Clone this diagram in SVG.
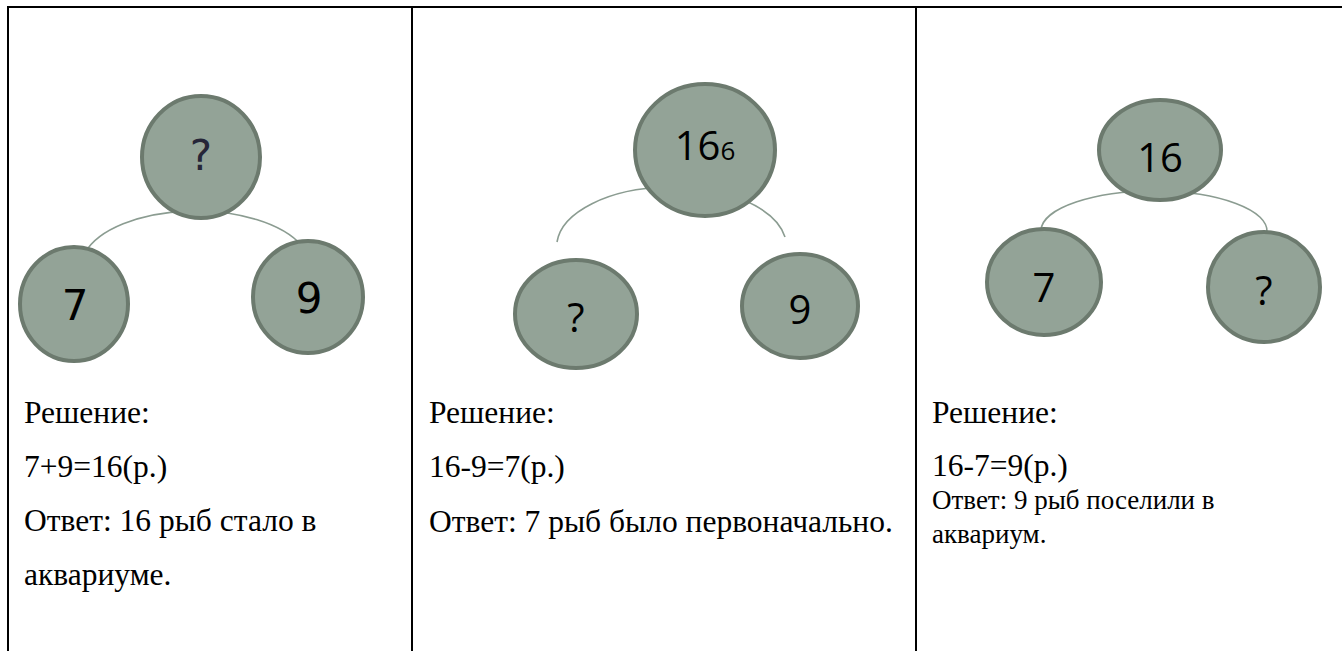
<svg xmlns="http://www.w3.org/2000/svg" width="1342" height="651" viewBox="0 0 1342 651">
<style>
.node{fill:#93a397;stroke:#6c7a6e;stroke-width:4}
.arc{fill:none;stroke:#8b9c91;stroke-width:1.6}
.grid{stroke:#000;stroke-width:2;fill:none}
.n1{font-family:"DejaVu Sans",sans-serif;font-size:42px;text-anchor:middle;fill:#000}
.n2{font-family:"Open Sans","Noto Sans",sans-serif;font-size:40px;text-anchor:middle;fill:#000}
.t{font-family:"Liberation Serif","Times New Roman",serif;font-size:31.5px;fill:#000}
.s{font-size:27px}
</style>
<rect width="1342" height="651" fill="#fff"/>
<g id="table" class="grid">
<line x1="7" y1="7" x2="1342" y2="7"/>
<line x1="8" y1="6" x2="8" y2="651"/>
<line x1="412" y1="6" x2="412" y2="651"/>
<line x1="916" y1="6" x2="916" y2="651"/>
</g>
<g id="connectors">
<path class="arc" d="M85,253 A115,57 0 0 1 302,246"/>
<path class="arc" d="M557,242 A115,60 0 0 1 785,237"/>
<path class="arc" d="M1041,230 A113,40 0 0 1 1267,232"/>
</g>
<g id="p1-top"><ellipse class="node" cx="201" cy="157" rx="59" ry="61"/><text class="n1" x="201" y="170" style="fill:#262638">?</text></g>
<g id="p1-left"><ellipse class="node" cx="74" cy="304" rx="54" ry="57"/><text class="n1" x="75" y="320">7</text></g>
<g id="p1-right"><ellipse class="node" cx="308" cy="297" rx="55" ry="56"/><text class="n1" x="309" y="313">9</text></g>
<g id="p2-top"><ellipse class="node" cx="705" cy="150" rx="70" ry="66"/><text class="n2" x="705" y="160" font-size="42">16<tspan font-size="26">6</tspan></text></g>
<g id="p2-left"><ellipse class="node" cx="576" cy="314" rx="61" ry="54"/><text class="n2" x="576" y="332">?</text></g>
<g id="p2-right"><ellipse class="node" cx="800" cy="306" rx="58" ry="52"/><text class="n2" x="800" y="324">9</text></g>
<g id="p3-top"><ellipse class="node" cx="1160" cy="150" rx="61" ry="50"/><text class="n2" x="1160" y="172">16</text></g>
<g id="p3-left"><ellipse class="node" cx="1044" cy="282" rx="57" ry="53"/><text class="n2" x="1044" y="302">7</text></g>
<g id="p3-right"><ellipse class="node" cx="1264" cy="287" rx="56" ry="55"/><text class="n2" x="1264" y="305">?</text></g>
<g id="text1" class="t">
<text x="24" y="423">Решение:</text>
<text x="24" y="477">7+9=16(р.)</text>
<text x="24" y="531">Ответ: 16 рыб стало в</text>
<text x="24" y="585">аквариуме.</text>
</g>
<g id="text2" class="t">
<text x="429" y="423">Решение:</text>
<text x="429" y="477">16-9=7(р.)</text>
<text x="429" y="532">Ответ: 7 рыб было первоначально.</text>
</g>
<g id="text3" class="t">
<text x="932" y="423">Решение:</text>
<text x="932" y="476">16-7=9(р.)</text>
<text class="s" x="932" y="509">Ответ: 9 рыб поселили в</text>
<text class="s" x="932" y="543">аквариум.</text>
</g>
</svg>
